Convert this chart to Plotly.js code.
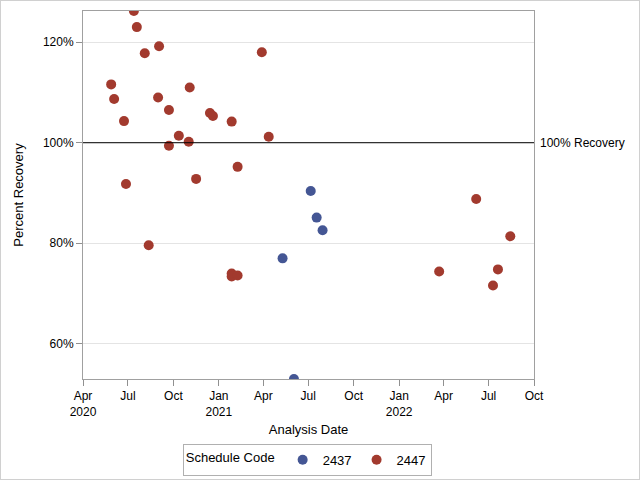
<!DOCTYPE html>
<html>
<head>
<meta charset="utf-8">
<script src="https://cdn.plot.ly/plotly-3.0.1.min.js"></script>
<style>
  body { margin: 0; background: #fff; }
  #chart { width: 638px; height: 478px; border: 1px solid #d0d0d0; }
</style>
</head>
<body>
<div id="chart"></div>
<script>
// schedule code 2437
const dates2437 = ["2021-05-10", "2021-06-02", "2021-07-06", "2021-07-18", "2021-07-30"];
const pct2437 = [77.0, 53.0, 90.4, 85.1, 82.6];

// schedule code 2447
const dates2447 = [
  "2020-05-28", "2020-06-03", "2020-06-23", "2020-06-27", "2020-07-13", "2020-07-19",
  "2020-08-04", "2020-08-12", "2020-08-31", "2020-09-02", "2020-09-22", "2020-09-22",
  "2020-10-12", "2020-11-01", "2020-11-03", "2020-11-16", "2020-12-14", "2020-12-20",
  "2021-01-27", "2021-01-27", "2021-01-27", "2021-02-08", "2021-02-08", "2021-03-29",
  "2021-04-12", "2022-03-23", "2022-06-06", "2022-07-10", "2022-07-20", "2022-08-14"
];
const pct2447 = [
  111.6, 108.7, 104.3, 91.8, 126.2, 123.0,
  117.8, 79.6, 109.0, 119.2, 106.5, 99.4,
  101.4, 100.2, 111.0, 92.8, 105.9, 105.3,
  104.2, 74.0, 73.4, 95.2, 73.6, 118.0,
  101.2, 74.4, 88.8, 71.6, 74.8, 81.4
];

const xTickVals = ["2020-04-01", "2020-07-01", "2020-10-01", "2021-01-01", "2021-04-01",
  "2021-07-01", "2021-10-01", "2022-01-01", "2022-04-01", "2022-07-01", "2022-10-01"];
const xTickText = ["Apr<br>2020", "Jul", "Oct", "Jan<br>2021", "Apr",
  "Jul", "Oct", "Jan<br>2022", "Apr", "Jul", "Oct"];
const yTickVals = [60, 80, 100, 120];
const yTickText = ["60%", "80%", "100%", "120%"];

const font = { family: "Liberation Sans, Arial, sans-serif", size: 12, color: "#000" };

const traces = [
  {
    x: dates2437, y: pct2437, name: "2437", type: "scatter", mode: "markers",
    marker: { color: "#445694", size: 10 }
  },
  {
    x: dates2447, y: pct2447, name: "2447", type: "scatter", mode: "markers",
    marker: { color: "#A23A2E", size: 10 }
  }
];

const layout = {
  width: 638, height: 478,
  margin: { l: 82, r: 105, t: 10, b: 100, autoexpand: false },
  paper_bgcolor: "#fff", plot_bgcolor: "#fff",
  font: font,
  showlegend: true,
  xaxis: {
    type: "date",
    range: ["2020-04-01", "2022-10-01"],
    tickvals: xTickVals, ticktext: xTickText,
    ticks: "outside", ticklen: 6, tickcolor: "#909090",
    showgrid: false, zeroline: false,
    showline: true, linecolor: "#a0a0a0", mirror: true,
    title: { text: "Analysis Date", font: { size: 13 }, standoff: 6 }
  },
  yaxis: {
    range: [53, 126.2],
    tickvals: yTickVals, ticktext: yTickText,
    ticks: "outside", ticklen: 6, tickcolor: "#909090",
    showgrid: true, gridcolor: "#e4e4e4", zeroline: false,
    showline: true, linecolor: "#a0a0a0", mirror: true,
    title: { text: "Percent Recovery", font: { size: 13 }, standoff: 16 }
  },
  shapes: [
    { type: "line", xref: "paper", x0: 0, x1: 1, yref: "y", y0: 100, y1: 100,
      line: { color: "#000", width: 1 } }
  ],
  annotations: [
    { xref: "paper", x: 1, xanchor: "left", xshift: 4, yref: "y", y: 100,
      text: "100% Recovery", showarrow: false, font: { size: 12 } }
  ],
  legend: {
    orientation: "h",
    xref: "container", x: 0.48, xanchor: "center",
    yref: "container", y: 0.04, yanchor: "middle",
    bordercolor: "#b0b0b0", borderwidth: 1,
    title: { text: "Schedule Code", side: "left", font: { size: 13 } },
    font: { size: 13 },
    itemwidth: 30,
    tracegroupgap: 0
  }
};

Plotly.newPlot("chart", traces, layout, { displayModeBar: false, staticPlot: true });
</script>
</body>
</html>
